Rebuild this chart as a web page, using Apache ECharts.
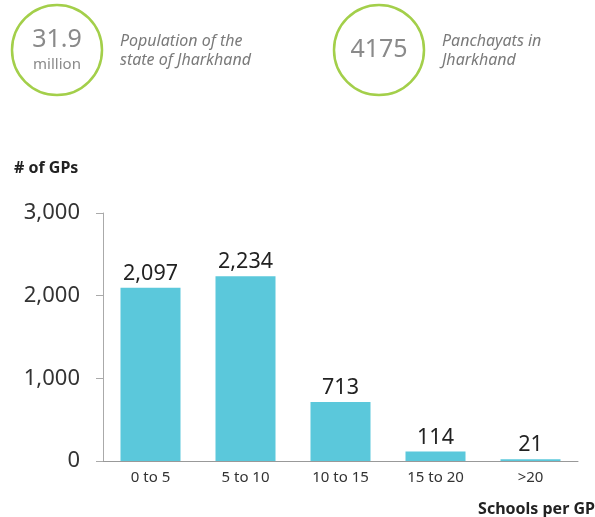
<!DOCTYPE html>
<html>
<head>
<meta charset="utf-8">
<script src="https://cdn.jsdelivr.net/npm/echarts@6/dist/echarts.min.js"></script>
<style>html,body{margin:0;padding:0;background:#fff}#c{width:595px;height:517px}</style>
</head>
<body>
<div id="c"></div>
<script>
var categories = ['0 to 5', '5 to 10', '10 to 15', '15 to 20', '>20'];
var gpCounts = [2097, 2234, 713, 114, 21];
var yTicks = [0, 1000, 2000, 3000];
var statValues = ['31.9', '4175'];
var statUnits = ['million', ''];
var statCaptions = [['Population of the', 'state of Jharkhand'], ['Panchayats in', 'Jharkhand']];

var FONT = '"Noto Sans", Lato, sans-serif';
var chart = echarts.init(document.getElementById('c'), null, {renderer: 'canvas'});

var circleCenters = [[57, 50], [379, 50]];
var captionX = [120, 442];
var graphics = [];
for (var i = 0; i < statValues.length; i++) {
  var cx = circleCenters[i][0], cy = circleCenters[i][1];
  graphics.push({type: 'circle', shape: {cx: cx, cy: cy, r: 45}, style: {fill: 'none', stroke: '#a3cf4a', lineWidth: 2.5}});
  var hasUnit = statUnits[i] !== '';
  graphics.push({type: 'text', x: cx, y: hasUnit ? cy - 10 : cy, style: {text: statValues[i], fill: '#8a8a8a', font: '25px ' + FONT, textAlign: 'center', textVerticalAlign: 'middle'}});
  if (hasUnit) {
    graphics.push({type: 'text', x: cx, y: cy + 15, style: {text: statUnits[i], fill: '#8a8a8a', font: '15px ' + FONT, textAlign: 'center', textVerticalAlign: 'middle'}});
  }
  graphics.push({type: 'text', x: captionX[i], y: 41, style: {text: statCaptions[i][0], fill: '#7a7a7a', font: 'italic 16px ' + FONT, textAlign: 'left', textVerticalAlign: 'middle'}});
  graphics.push({type: 'text', x: captionX[i], y: 60, style: {text: statCaptions[i][1], fill: '#7a7a7a', font: 'italic 16px ' + FONT, textAlign: 'left', textVerticalAlign: 'middle'}});
}
graphics.push({type: 'text', x: 14, y: 168, style: {text: '# of GPs', fill: '#222', font: 'bold 16px ' + FONT, textAlign: 'left', textVerticalAlign: 'middle'}});
graphics.push({type: 'text', x: 595, y: 509, style: {text: 'Schools per GP', fill: '#222', font: 'bold 16px ' + FONT, textAlign: 'right', textVerticalAlign: 'middle'}});

chart.setOption({
  animation: false,
  textStyle: {fontFamily: FONT},
  grid: {left: 103, right: 17, top: 213, bottom: 56, containLabel: false},
  xAxis: {
    type: 'category',
    data: categories,
    axisLine: {lineStyle: {color: '#999', width: 1}},
    axisTick: {show: false},
    axisLabel: {color: '#333', fontSize: 15, margin: 9, fontFamily: FONT}
  },
  yAxis: {
    type: 'value',
    min: yTicks[0],
    max: yTicks[yTicks.length - 1],
    interval: 1000,
    axisLine: {show: true, lineStyle: {color: '#aaa', width: 1}},
    axisTick: {show: true, length: 7, lineStyle: {color: '#aaa'}},
    splitLine: {show: false},
    axisLabel: {color: '#333', fontSize: 22, margin: 23, fontFamily: FONT,
      formatter: function (v) { return v.toLocaleString('en-US'); }}
  },
  series: [{
    type: 'bar',
    data: gpCounts,
    barWidth: 60,
    itemStyle: {color: '#5bc8db'},
    label: {show: true, position: 'top', distance: 3, color: '#222', fontSize: 21.5, fontFamily: FONT,
      formatter: function (p) { return p.value.toLocaleString('en-US'); }}
  }],
  graphic: graphics
});
</script>
</body>
</html>
